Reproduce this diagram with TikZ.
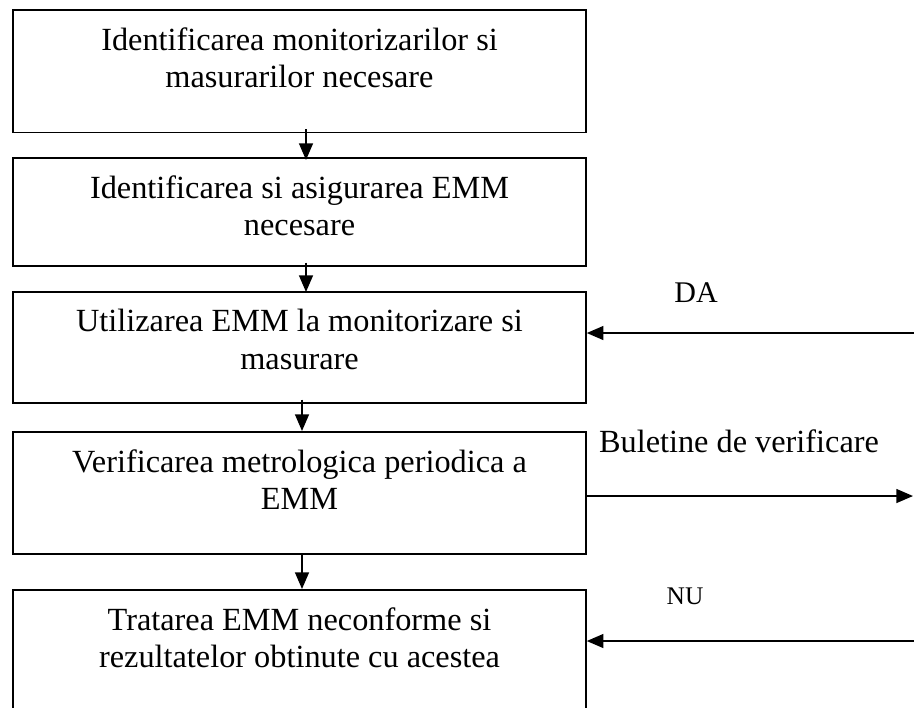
\documentclass[tikz,border=0pt]{standalone}
\usepackage{fontspec}
\setmainfont{Liberation Serif}
\usetikzlibrary{arrows.meta, positioning, calc}
\newlength\pxl
\setlength\pxl{0.4334pt}

\begin{document}
\begin{tikzpicture}[x=0.4334pt, y=-0.4334pt,
		stepbox/.style={draw, line width=0.65pt, minimum width=573\pxl, inner sep=0pt, anchor=north},
		boxtext/.style={align=center, inner sep=0pt, font=\fontsize{14}{16.2}\selectfont},
		flow/.style={line width=0.75pt, -{Triangle[length=7.2pt, width=6pt]}}]
		\clip (0,0) rectangle (914,707);
		% Boxes
		\node[stepbox, minimum height=122.5\pxl] (b1) at (299.5,9) {};
		\node[stepbox, minimum height=108\pxl] (b2) at (299.5,157) {};
		\node[stepbox, minimum height=111\pxl] (b3) at (299.5,291) {};
		\node[stepbox, minimum height=122\pxl] (b4) at (299.5,431) {};
		\node[stepbox, minimum height=140\pxl] (b5) at (299.5,589) {};

		\node[boxtext, below=18\pxl of b1.north] (t1) {Identificarea monitorizarilor si\\masurarilor necesare};
		\node[boxtext, below=18\pxl of b2.north] (t2) {Identificarea si asigurarea EMM\\necesare};
		\node[boxtext, below=18\pxl of b3.north] (t3) {Utilizarea EMM la monitorizare si\\masurare};
		\node[boxtext, below=18\pxl of b4.north] (t4) {Verificarea metrologica periodica a\\EMM};
		\node[boxtext, below=18\pxl of b5.north] (t5) {Tratarea EMM neconforme si\\rezultatelor obtinute cu acestea};

		% Arrows down
		\draw[flow] ([xshift=6.5\pxl,yshift=4\pxl]b1.south) -- ([xshift=6.5\pxl,yshift=-3\pxl]b2.north);
		\draw[flow] ([xshift=6.5\pxl,yshift=4\pxl]b2.south) -- ([xshift=6.5\pxl,yshift=-1\pxl]b3.north);
		\draw[flow] ([xshift=2.5\pxl,yshift=4\pxl]b3.south) -- ([xshift=2.5\pxl]b4.north);
		\draw[flow] ([xshift=2.5\pxl]b4.south) -- ([xshift=2.5\pxl]b5.north);

		% Side arrows
		\coordinate (da) at (914,333);
		\coordinate (bul) at (913,496);
		\coordinate (nu) at (914,641);
		\draw[flow] (da) -- (da -| b3.east);
		\draw[flow] (b4.east |- bul) -- (bul);
		\draw[flow] (nu) -- (nu -| b5.east);

		\node[font=\fontsize{13}{15}\selectfont] (lda) at (696,293) {DA};
		\node[font=\fontsize{14}{16}\selectfont] (lbul) at (739,441) {Buletine de verificare};
		\node[font=\fontsize{11}{13}\selectfont] (lnu) at (685,596.5) {NU};
	\end{tikzpicture}
\end{document}
